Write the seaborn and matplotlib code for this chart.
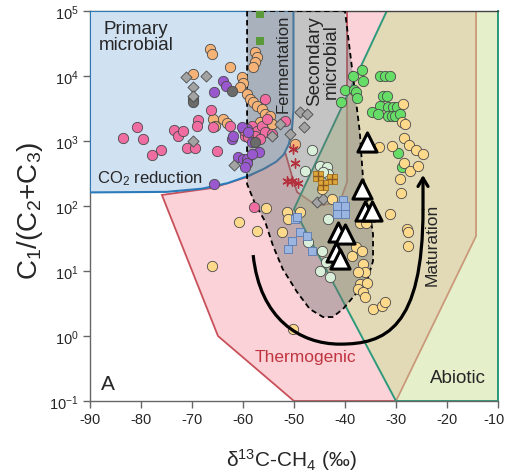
import numpy as np
import pandas as pd
import matplotlib
matplotlib.use("Agg")
import matplotlib.pyplot as plt
import matplotlib.transforms as mtransforms
import seaborn as sns
from matplotlib.patches import Polygon, PathPatch
from matplotlib.path import Path
from matplotlib.ticker import NullLocator, FixedLocator

# ---------------- data (delta13C-CH4 permil, C1/(C2+C3)) ----------------
orange_x = [-66.5, -66.1, -62.5, -60.2, -60.0, -69.8, -57.6, -57.3, -57.6, -58.0, -60.6, -59.2, -58.6,
            -58.0, -57.3, -56.3, -55.7, -54.7, -55.1, -54.3, -56.7, -65.9, -65.5, -63.9, -63.1, -49.8]
orange_y = [26000, 21800, 13800, 9660, 7900, 10700, 23400, 19600, 16400, 13800, 6770, 5290, 4430,
            3980, 3450, 3110, 2600, 2430, 2030, 1830, 1960, 2180, 1700, 2180, 1890, 900]

pink_x = [-80.8, -83.5, -79.6, -76.1, -77.8, -73.5, -72.7, -71.8, -71.0, -69.4, -68.8, -69.0, -66.3,
          -65.9, -65.1, -62.5, -60.0, -59.6, -59.6, -58.2, -57.3, -56.3, -55.7, -57.6, -59.0, -56.7,
          -55.3, -54.3, -55.7, -57.8, -51.8]
pink_y = [1640, 1110, 1070, 727, 609, 1480, 1190, 1430, 781, 781, 2100, 1700, 3000,
          1640, 702, 1700, 1530, 1190, 1430, 1700, 1430, 1700, 1380, 1190, 1150, 1070,
          2180, 1280, 4430, 96.6, 2030]

purple_x = [-63.9, -63.3, -65.7, -62.2, -62.0, -61.0, -60.0, -59.2, -59.2, -65.7, -59.2, -60.2,
            -58.2, -56.9, -59.6, -58.2, -59.0]
purple_y = [8380, 7020, 5670, 1070, 1190, 567, 528, 528, 460, 218, 1530, 1640,
            966, 677, 398, 631, 1380]

darkgray_x = [-62.2, -69.8, -69.8, -57.6]
darkgray_y = [5880, 4430, 3980, 966]

diamond_x = [-71.2, -67.3, -69.8, -69.8, -69.8, -61.8, -54.3, -52.7, -50.8, -48.8, -47.5, -48.0, -45.5, -44.3]
diamond_y = [9660, 10000, 6770, 4920, 1000, 428, 1190, 1830, 1280, 2790, 2600, 1640, 115, 128]

gsquare_x = [-56.7, -56.7]
gsquare_y = [90000, 34500]

green_x = [-36.7, -38.4, -36.5, -40.0, -38.2, -37.8, -37.6, -40.8, -33.1, -32.2, -31.2, -32.5, -31.8,
           -33.1, -31.6, -30.6, -29.8, -34.7, -33.5, -31.6, -30.8, -30.2, -29.2, -29.6, -28.8]
green_y = [12400, 10000, 8380, 6090, 6090, 5670, 4590, 3980, 10000, 10000, 10000, 4920, 4920,
           3450, 3330, 3330, 3330, 2790, 2600, 2430, 2430, 2430, 2600, 653, 398]

yellow_x = [-28.6, -28.8, -28.2, -28.4, -33.3, -30.8, -27.5, -26.1, -24.7, -28.4, -27.3, -25.7, -29.2,
            -29.0, -31.2, -27.8, -27.6, -27.6, -42.5, -44.5, -37.1, -35.9, -37.8, -36.7, -38.6, -36.5,
            -36.1, -37.5, -37.1, -35.7, -37.5, -36.5, -36.1, -34.5, -32.7, -32.2, -51.4, -48.8, -52.4,
            -50.2, -57.3, -55.5, -60.8, -66.1, -51.2]
yellow_y = [3710, 1960, 1830, 1110, 809, 838, 867, 727, 631, 459, 345, 413, 260,
            158, 75.3, 44.3, 39.8, 24.3, 128, 183, 54.7, 54.7, 23.4, 20.3, 17.0, 12.8,
            9.66, 9.66, 6.31, 6.53, 5.28, 4.75, 3.98, 2.6, 2.9, 3.33, 80.9, 80.9, 39.8,
            1.28, 41.3, 93.1, 56.7, 11.9, 63.1]

mint_x = [-46.5, -47.8, -44.9, -43.5, -43.3, -44.3, -43.3, -47.3, -44.5, -43.7, -44.9, -42.9]
mint_y = [727, 345, 413, 398, 311, 333, 63.1, 27.9, 20.3, 13.8, 10, 8.09]

bsquare_x = [-40.4, -41.6, -40.0, -41.6, -40.0, -49.8, -48.8, -47.5, -50.4, -51.2, -46.5, -49.4]
bsquare_y = [125, 100, 100, 75, 75, 63.1, 39.8, 34.5, 28.9, 21.8, 20.3, 67]

cross_x = [-50.2, -49.8, -51.4, -50.4, -49.2]
cross_y = [752, 459, 243, 243, 226]

xsquare_x = [-45.3, -42.5, -44.3]
xsquare_y = [290, 260, 210]

tri_x = [-35.7, -36.7, -36.1, -34.7, -41.4, -40.0, -41.8, -41.0]
tri_y = [966, 183, 83.8, 83.8, 39.8, 37.1, 19.6, 15.3]

# ---------------- genetic field boundaries ----------------
primary_x = [-90, -50.1, -50.1, -50.4, -51.0, -52.0, -53.5, -56.0, -59.0, -63.0, -68.0, -75.0, -90]
primary_y = [1e5, 1e5, 3000, 1500, 900, 620, 480, 370, 290, 225, 185, 165, 162]

thermo_x = [-75.9, -64.9, -50.0, -30.0, -14.3, -14.3, -39.6, -39.6, -41.0, -45.5, -49.4, -50.4,
            -51.8, -52.7, -55.3, -59.2, -65.9]
thermo_y = [148, 1.0, 0.1, 0.1, 34.5, 1e5, 1e5, 234, 115, 100, 164, 290,
            702, 567, 398, 280, 190]

abiotic_x = [-50.0, -31.8, -10, -10, -30.0]
abiotic_y = [90, 1e5, 1e5, 0.1, 0.1]

second_x = [-59.2, -59.2, -57.6, -55.7, -54.1, -52.2, -49.4, -46.9, -44.3, -42.4, -40.4, -38.4,
            -35.7, -34.5, -34.5, -35.1, -36.5, -37.1, -38.6, -40.0]
second_y = [1e5, 218, 107, 58.7, 24.3, 10.7, 4.75, 2.6, 1.96, 1.96, 2.6, 3.98,
            7.0, 14.3, 37.1, 75.3, 290, 1380, 12800, 1e5]

# maturation trend (two cubic Bezier segments) and arrow tip
matur_x = [-58.0, -56.7, -48.8, -41.0, -32.2, -24.7, -24.7]
matur_y = [17.6, 1.83, 0.75, 0.75, 0.75, 1.28, 89.9]
matur_tip = (-24.7, 300)

xticks = [-90, -80, -70, -60, -50, -40, -30, -20, -10]
yticks = [0.1, 1, 10, 100, 1000, 10000, 100000]

# ---------------- style ----------------
sns.set_theme(style="white")
plt.rcParams['font.family'] = ['Liberation Sans', 'DejaVu Sans']
plt.rcParams['mathtext.fontset'] = 'custom'
plt.rcParams['mathtext.rm'] = 'Liberation Sans'
plt.rcParams['mathtext.it'] = 'Liberation Sans:italic'
plt.rcParams['mathtext.default'] = 'regular'
plt.rcParams['axes.unicode_minus'] = False

fig = plt.figure(figsize=(5.07, 4.77), dpi=100)
ax = fig.add_axes([0.1775, 0.1572, 0.8047, 0.8176])
ax.set_yscale('log')
ax.set_xlim(-90, -10)
ax.set_ylim(0.1, 1e5)

def poly(xs, ys, **kw):
    p = Polygon(np.column_stack([xs, ys]), closed=True, **kw)
    ax.add_patch(p)
    return p

poly(thermo_x, thermo_y, facecolor='#fad2d7', edgecolor='#c8505a', lw=1.3, zorder=1)
poly(abiotic_x, abiotic_y, facecolor=(0.80, 0.89, 0.60, 0.5), edgecolor='#2e9a7c', lw=1.4, zorder=2)
poly(primary_x, primary_y, facecolor='#d0e1f2', edgecolor='#2b7bba', lw=1.5, zorder=3)
poly(second_x, second_y, facecolor=(0.45, 0.45, 0.45, 0.42), edgecolor='black', lw=1.3,
     linestyle=(0, (3, 2)), zorder=4)

edge = '#4a4a4a'
def pts(xs, ys, marker, color, s, z=6, ec=edge, lw=0.6):
    sns.scatterplot(x=xs, y=ys, ax=ax, marker=marker, color=color, s=s,
                    edgecolor=ec, linewidth=lw, zorder=z, legend=False)

pts(orange_x, orange_y, 'o', '#f6b377', 55)
pts(pink_x, pink_y, 'o', '#f06da2', 55)
pts(purple_x, purple_y, 'o', '#9a58cf', 55)
pts(darkgray_x, darkgray_y, 'o', '#6b6b6b', 55)
pts(diamond_x, diamond_y, 'D', '#a3a3a3', 32)
pts(gsquare_x, gsquare_y, 's', '#5a9a3a', 30, ec='#5a9a3a', lw=0)
pts(green_x, green_y, 'o', '#66dd66', 55)
pts(yellow_x, yellow_y, 'o', '#fdd98c', 55)
pts(mint_x, mint_y, 'o', '#d9efd9', 55)
pts(bsquare_x, bsquare_y, 's', '#9ab6e0', 38, ec='#5a7ab0')
sns.scatterplot(x=cross_x, y=cross_y, ax=ax, marker=(6, 2, 0), color='#b3303c', s=45,
                linewidth=1.0, zorder=6, legend=False)
pts(xsquare_x, xsquare_y, 's', '#dda63a', 45, ec='#a07020')
sns.scatterplot(x=xsquare_x, y=xsquare_y, ax=ax, marker='+', color='#8a5a20', s=45,
                linewidth=1.0, zorder=7, legend=False)
pts(tri_x, tri_y, '^', 'white', 190, z=8, ec='black', lw=2.2)

# maturation arrow
codes = [Path.MOVETO, Path.CURVE4, Path.CURVE4, Path.CURVE4, Path.CURVE4, Path.CURVE4, Path.CURVE4]
mpath = Path(np.column_stack([matur_x, matur_y]), codes)
ax.add_patch(PathPatch(mpath, facecolor='none', edgecolor='black', lw=2.3, zorder=9,
                       capstyle='butt'))
ax.annotate('', xy=matur_tip, xytext=(matur_x[-1], matur_y[-1]),
            arrowprops=dict(arrowstyle='->,head_length=0.5,head_width=0.3', lw=2.3, color='black',
                            shrinkA=0, shrinkB=0),
            zorder=9)

# labels in fields
ax.text(-88.3, 41000, 'Primary\nmicrobial', ha='left', va='center', fontsize=13.5,
        linespacing=0.95, zorder=10, multialignment='center')
ax.text(-88.6, 270, 'CO$_2$ reduction', ha='left', va='center', fontsize=12, zorder=10)
ax.text(-52.2, 16000, 'Fermentation', ha='center', va='center', rotation=90, fontsize=12, zorder=10)
ax.text(-44.3, 17500, 'Secondary\nmicrobial', ha='center', va='center', rotation=90,
        fontsize=13.5, linespacing=0.95, zorder=10)
ax.text(-47.8, 0.49, 'Thermogenic', ha='center', va='center', fontsize=12.5, color='#c0343f', zorder=10)
ax.text(-17.8, 0.234, 'Abiotic', ha='center', va='center', fontsize=13.5, zorder=10)
ax.text(-86.5, 0.183, 'A', ha='center', va='center', fontsize=15, zorder=10)
ax.text(-23.0, 26, 'Maturation', ha='center', va='center', rotation=90, fontsize=12.5, zorder=10)

# axes
ax.xaxis.set_major_locator(FixedLocator(xticks))
ax.yaxis.set_major_locator(FixedLocator(yticks))
ax.yaxis.set_minor_locator(NullLocator())
ax.xaxis.set_minor_locator(NullLocator())
ax.tick_params(direction='out', length=5, width=1, color='#666666', labelsize=10.5,
               bottom=True, left=True, pad=3)
for s in ['left', 'bottom']:
    ax.spines[s].set_color('#666666')
    ax.spines[s].set_linewidth(1.0)
ax.spines['top'].set_color('#444444')
ax.spines['top'].set_linewidth(1.0)
ax.spines['right'].set_color('#2e9a7c')
ax.spines['right'].set_linewidth(1.4)

ax.set_xlabel('δ$^{13}$C-CH$_4$ (‰)', fontsize=15)
ax.set_ylabel('C$_1$/(C$_2$+C$_3$)', fontsize=20)
ax.xaxis.set_label_coords(0.495, -0.115)
ax.yaxis.set_label_coords(-0.11, 0.49)

fig.canvas.draw()
last = ax.get_xticklabels()[-1]
last.set_transform(last.get_transform() + mtransforms.ScaledTranslation(-4/100, 0, fig.dpi_scale_trans))

fig.savefig('out.png', dpi=100)
